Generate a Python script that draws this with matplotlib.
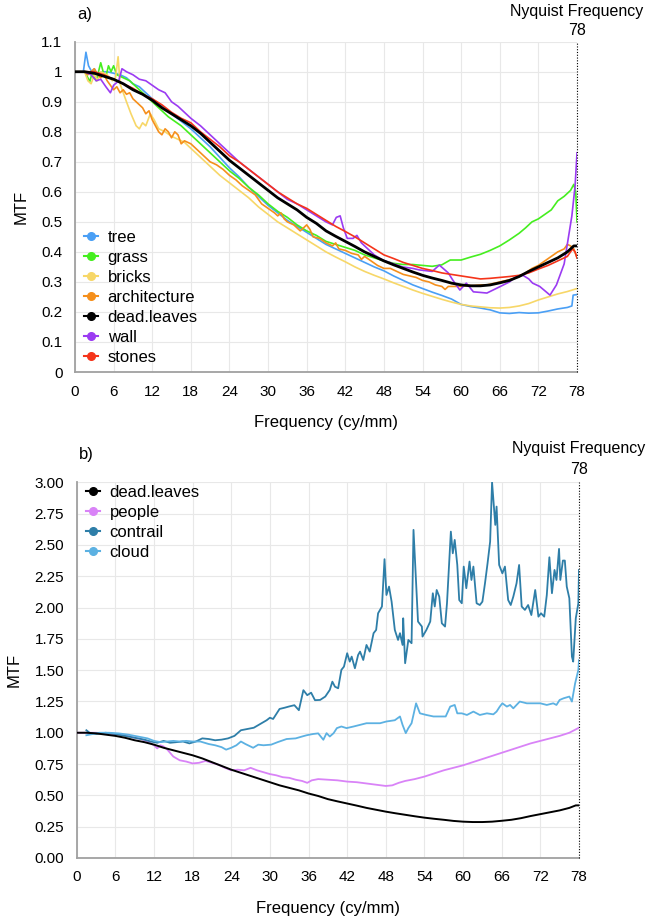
"""
MTF curves for natural scene content vs. the dead-leaves target.

    a) texture-like scenes
    b) people / sky scenes (contrail, cloud)
"""

import matplotlib
matplotlib.use("Agg")
import matplotlib.pyplot as plt
from matplotlib.lines import Line2D
from matplotlib.ticker import FuncFormatter, MultipleLocator

plt.rcParams["font.family"] = ["Liberation Sans", "DejaVu Sans"]

NYQUIST = 78

# ---------------------------------------------------------------------------
# panel a) data
# ---------------------------------------------------------------------------

dead_x = [0, 1.5, 3, 4.5, 6, 7.5, 9, 10.5, 12, 13.5, 15, 16.5, 18, 19.5, 21,
          22.5, 24, 25.5, 27, 28.5, 30, 31.5, 33, 34.5, 36, 37.5, 39, 40.5,
          42, 43.5, 45, 46.5, 48, 49.5, 51, 52.5, 54, 55.5, 57, 58.5, 60,
          61.5, 63, 64.5, 66, 67.5, 69, 70.5, 72, 73.5, 75, 76.5, 77.5, 78]
dead_y = [1.0, 1.0, 0.995, 0.985, 0.975, 0.96, 0.94, 0.925, 0.905, 0.88,
          0.86, 0.84, 0.82, 0.795, 0.765, 0.735, 0.705, 0.68, 0.655, 0.63,
          0.605, 0.58, 0.56, 0.54, 0.515, 0.495, 0.47, 0.452, 0.435, 0.418,
          0.4, 0.385, 0.37, 0.357, 0.345, 0.333, 0.322, 0.313, 0.305, 0.296,
          0.29, 0.287, 0.287, 0.29, 0.297, 0.305, 0.318, 0.335, 0.35, 0.365,
          0.38, 0.4, 0.42, 0.42]

stones_x = [1.5, 3, 4.5, 6, 7.5, 9, 10.5, 12, 13.5, 15, 16.5, 18, 19.5, 21,
            22.5, 24, 25.5, 27, 28.5, 30, 31.5, 33, 34.5, 36, 37.5, 39, 40.5,
            42, 43.5, 45, 46.5, 48, 49.5, 51, 52.5, 54, 55.5, 57, 58.5, 60,
            61.5, 63, 64.5, 66, 67.5, 69, 70.5, 72, 73.5, 75, 76.5, 77.3,
            77.7, 78]
stones_y = [1.0, 1.0, 0.99, 0.975, 0.96, 0.945, 0.925, 0.91, 0.89, 0.865,
            0.845, 0.83, 0.8, 0.775, 0.75, 0.72, 0.7, 0.675, 0.65, 0.625,
            0.6, 0.58, 0.56, 0.545, 0.525, 0.505, 0.485, 0.468, 0.45, 0.43,
            0.41, 0.39, 0.378, 0.365, 0.355, 0.345, 0.338, 0.33, 0.325, 0.32,
            0.315, 0.31, 0.312, 0.315, 0.318, 0.322, 0.33, 0.343, 0.355,
            0.37, 0.385, 0.41, 0.4, 0.38]

wall_x = [1.5, 2.5, 3.3, 4, 4.8, 5.5, 6, 6.8, 7.3, 8, 9, 10, 11, 12, 13, 14,
          15, 16, 17, 18, 19.5, 21, 22.5, 24, 25.5, 27, 28.5, 30, 31.5, 33,
          34.5, 36, 37.5, 39, 40, 40.6, 41.2, 41.7, 42.3, 43.2, 43.8, 44.5,
          45.5, 46.5, 47.8, 49.5, 50.9, 52.5, 53.5, 55.5, 56.6, 57.2, 58,
          58.7, 59.8, 60.8, 61.9, 63, 64, 66, 67.5, 68.5, 69.6, 70.5, 71.1,
          72.2, 73.2, 73.8, 74.8, 76, 76.6, 77.2, 77.7, 78]
wall_y = [1.0, 0.99, 0.97, 0.975, 0.95, 0.93, 0.955, 0.97, 1.01, 1.0, 0.99,
          0.975, 0.97, 0.955, 0.94, 0.93, 0.9, 0.885, 0.865, 0.845, 0.82,
          0.79, 0.76, 0.73, 0.7, 0.675, 0.65, 0.625, 0.6, 0.575, 0.56, 0.54,
          0.52, 0.5, 0.49, 0.515, 0.52, 0.48, 0.445, 0.445, 0.455, 0.43,
          0.41, 0.39, 0.373, 0.36, 0.35, 0.345, 0.34, 0.335, 0.356, 0.345,
          0.33, 0.306, 0.273, 0.296, 0.267, 0.265, 0.263, 0.284, 0.3, 0.317,
          0.322, 0.31, 0.296, 0.285, 0.267, 0.256, 0.29, 0.36, 0.44, 0.52,
          0.62, 0.73]

grass_x = [1.5, 2, 2.3, 2.7, 3.3, 4, 4.5, 4.8, 5.2, 5.6, 6, 6.5, 7.5, 8.5,
           9.5, 10.5, 11.5, 12.5, 13.5, 14.5, 15.5, 16.5, 17.5, 18.5, 19.5,
           21, 22.5, 24, 25.5, 27, 28.5, 30, 31.5, 33, 34.5, 36, 37.5, 39,
           40.5, 42, 43.5, 45, 46.5, 48, 49.5, 51, 52.5, 54, 55.5, 57, 58.3,
           60, 61.5, 63, 64.5, 66, 67.5, 69, 70, 71, 72, 73, 74, 75, 76, 77,
           77.5, 77.8, 78]
grass_y = [1.0, 0.98, 0.967, 1.0, 0.97, 1.03, 0.99, 0.983, 1.02, 1.0, 1.02,
           0.99, 0.98, 0.97, 0.95, 0.93, 0.91, 0.89, 0.87, 0.85, 0.835, 0.82,
           0.8, 0.78, 0.76, 0.73, 0.7, 0.67, 0.645, 0.615, 0.59, 0.56, 0.535,
           0.515, 0.49, 0.47, 0.455, 0.435, 0.425, 0.415, 0.405, 0.39, 0.38,
           0.37, 0.362, 0.358, 0.358, 0.355, 0.352, 0.357, 0.373, 0.373,
           0.383, 0.392, 0.405, 0.42, 0.44, 0.462, 0.48, 0.5, 0.51, 0.525,
           0.54, 0.57, 0.585, 0.605, 0.625, 0.6, 0.5]

tree_x = [0, 1.3, 1.7, 2.1, 2.6, 3, 3.5, 4.2, 5, 6, 7, 8, 9, 10, 11, 12,
          13.5, 15, 16.5, 18, 19.5, 21, 22.5, 24, 25.5, 27, 28.5, 30, 31.5,
          33, 34.5, 36, 37.5, 39, 40.5, 42, 43.5, 45, 46.5, 48, 49.5, 51,
          52.5, 54, 55.5, 57, 58.5, 60, 61.5, 63, 64.5, 66, 67.5, 69, 70.5,
          72, 73.5, 75, 76.5, 77.2, 77.4, 78]
tree_y = [1.0, 1.0, 1.065, 1.02, 1.0, 1.01, 0.99, 1.0, 1.0, 0.995, 0.99,
          0.98, 0.96, 0.95, 0.93, 0.91, 0.885, 0.86, 0.835, 0.81, 0.78, 0.75,
          0.715, 0.68, 0.65, 0.615, 0.585, 0.555, 0.53, 0.505, 0.485, 0.465,
          0.445, 0.425, 0.41, 0.395, 0.38, 0.365, 0.35, 0.337, 0.32, 0.305,
          0.29, 0.278, 0.266, 0.255, 0.243, 0.225, 0.218, 0.213, 0.207, 0.197,
          0.195, 0.198, 0.196, 0.197, 0.203, 0.21, 0.215, 0.22, 0.256, 0.258]

bricks_x = [0, 1.5, 2, 2.5, 3, 3.5, 4, 5, 5.8, 6.3, 6.7, 7, 7.5, 8, 8.7,
            9.5, 10, 10.5, 11, 11.7, 12.3, 13, 14, 15, 16, 17, 18, 19.5, 21,
            22.5, 24, 25.5, 27, 28.5, 30, 31.5, 33, 34.5, 36, 37.5, 39, 40.5,
            42, 43.5, 45, 46.5, 48, 49.5, 51, 52.5, 54, 55.5, 57, 58.5, 60,
            61.5, 63, 64.5, 66, 67.5, 69, 70.5, 72, 73.5, 75, 76.5, 78]
bricks_y = [1.0, 1.0, 0.97, 0.96, 0.99, 0.97, 1.0, 0.99, 0.97, 0.98, 1.05,
            0.96, 0.93, 0.9, 0.86, 0.82, 0.81, 0.83, 0.82, 0.86, 0.84, 0.81,
            0.8, 0.785, 0.775, 0.765, 0.745, 0.715, 0.685, 0.655, 0.63,
            0.605, 0.58, 0.55, 0.525, 0.5, 0.48, 0.46, 0.44, 0.42, 0.4,
            0.383, 0.367, 0.35, 0.335, 0.322, 0.31, 0.297, 0.285, 0.273,
            0.262, 0.252, 0.242, 0.233, 0.225, 0.22, 0.217, 0.214, 0.213,
            0.215, 0.22, 0.228, 0.24, 0.25, 0.26, 0.268, 0.278]

arch_x = [0, 1.5, 2, 2.5, 3, 3.5, 4, 4.5, 5, 5.5, 6, 6.5, 7, 7.5, 8, 8.5, 9,
          9.5, 10, 10.5, 11, 11.5, 12, 12.5, 13, 13.5, 14, 14.5, 15, 15.5,
          16, 16.5, 17, 18, 19, 20, 21, 22, 23, 24, 25, 26, 27, 28, 29, 30,
          31, 31.5, 32, 32.5, 33, 34, 35, 36, 36.5, 37, 38, 39, 40, 40.5, 41,
          42, 43, 44, 44.5, 45, 46, 47, 48, 49, 50, 51, 52, 53, 54, 55, 56,
          57, 57.5, 58, 59, 60, 61, 62, 63, 64, 65, 66, 67, 68, 69, 70, 71,
          72, 73, 74, 75, 76, 76.5, 77, 77.5, 78]
arch_y = [1.0, 1.0, 0.99, 1.0, 1.01, 0.99, 0.98, 0.99, 0.97, 0.955, 0.94,
          0.95, 0.93, 0.94, 0.925, 0.93, 0.91, 0.9, 0.89, 0.88, 0.86, 0.87,
          0.84, 0.82, 0.8, 0.79, 0.81, 0.8, 0.78, 0.8, 0.79, 0.76, 0.77,
          0.76, 0.74, 0.72, 0.7, 0.69, 0.675, 0.655, 0.64, 0.62, 0.605, 0.59,
          0.56, 0.545, 0.53, 0.52, 0.53, 0.51, 0.5, 0.49, 0.47, 0.49, 0.475,
          0.45, 0.445, 0.43, 0.42, 0.43, 0.41, 0.405, 0.395, 0.39, 0.375,
          0.385, 0.37, 0.355, 0.345, 0.345, 0.335, 0.325, 0.32, 0.315, 0.305,
          0.3, 0.29, 0.285, 0.275, 0.285, 0.285, 0.285, 0.288, 0.288, 0.29,
          0.29, 0.295, 0.3, 0.305, 0.31, 0.318, 0.33, 0.345, 0.355, 0.37,
          0.385, 0.4, 0.41, 0.425, 0.42, 0.41, 0.38]

# ---------------------------------------------------------------------------
# panel b) data
# ---------------------------------------------------------------------------

people_x = [0, 1.5, 3, 4.5, 6, 7.5, 9, 10, 11, 12, 12.5, 13, 13.5, 14, 14.5,
            15, 16, 17, 18, 19, 20, 21, 22, 23, 24, 25, 26, 27, 28, 29, 30,
            31, 32, 33, 34, 35, 35.8, 36.5, 37.5, 39, 40.5, 42, 43.5, 45,
            46.5, 48, 49, 50, 51, 52.5, 54, 55.5, 57, 58.5, 60, 61.5, 63,
            64.5, 66, 67.5, 69, 70.5, 72, 73.5, 75, 76.5, 78]
people_y = [1.0, 1.0, 1.0, 0.995, 0.99, 0.98, 0.96, 0.95, 0.93, 0.9, 0.875,
            0.9, 0.89, 0.87, 0.84, 0.81, 0.78, 0.77, 0.755, 0.76, 0.775, 0.76,
            0.745, 0.72, 0.7, 0.705, 0.7, 0.72, 0.7, 0.685, 0.67, 0.66, 0.645,
            0.64, 0.625, 0.615, 0.6, 0.62, 0.63, 0.625, 0.62, 0.61, 0.605,
            0.595, 0.585, 0.575, 0.58, 0.6, 0.615, 0.63, 0.65, 0.675, 0.7,
            0.72, 0.74, 0.765, 0.79, 0.815, 0.84, 0.865, 0.89, 0.915, 0.935,
            0.955, 0.975, 1.0, 1.04]

contrail_x = [1.5, 2, 3, 4.5, 6, 7.5, 9, 10.5, 11.5, 12.5, 13.5, 14.5, 15.5,
              16.5, 17.5, 18.5, 19.5, 20.5, 21.5, 22.5, 23.5, 24.5, 25.5,
              26.5, 27.5, 28.5, 29.5, 30, 30.5, 31.5, 32.3, 33, 33.8, 34.5,
              35.2, 35.8, 36.4, 37, 37.8, 38.6, 39.3, 39.7, 40.1, 40.6, 41.1,
              41.5, 42.0, 42.4, 42.7, 43.2, 43.7, 44.0, 44.5, 45.0, 45.5,
              46.1, 46.5, 46.8, 47.4, 47.8, 48.1, 48.5, 48.9, 49.4, 49.9,
              50.2, 50.6, 50.7, 51.0, 51.5, 52.0, 52.3, 52.6, 53.0, 53.6,
              53.7, 54.3, 54.9, 55.3, 55.6, 55.9, 56.3, 56.7, 57.2, 57.5,
              58.1, 58.4, 58.7, 59.1, 59.4, 59.8, 60.1, 60.5, 61.0, 61.3,
              61.6, 62.1, 62.6, 63.0, 63.4, 63.8, 64.2, 64.5, 65.0, 65.2,
              65.6, 66.1, 66.5, 67.0, 67.4, 67.8, 68.3, 68.7, 69.1, 69.6,
              70.1, 70.6, 71.2, 71.7, 72.1, 72.6, 73.0, 73.4, 73.8, 74.2,
              74.5, 74.9, 75.1, 75.5, 75.8, 76.1, 76.5, 76.9, 77.1, 77.5,
              77.9, 78]
contrail_y = [1.02, 1.0, 0.99, 1.0, 0.99, 0.975, 0.96, 0.945, 0.93, 0.92,
              0.935, 0.92, 0.925, 0.93, 0.915, 0.93, 0.955, 0.95, 0.94,
              0.945, 0.955, 0.975, 1.02, 1.03, 1.04, 1.07, 1.1, 1.12, 1.11,
              1.19, 1.2, 1.21, 1.22, 1.18, 1.34, 1.3, 1.32, 1.26, 1.262,
              1.289, 1.342, 1.408, 1.368, 1.355, 1.502, 1.528, 1.635, 1.568,
              1.608, 1.515, 1.621, 1.648, 1.581, 1.701, 1.648, 1.795, 1.821,
              1.954, 2.008, 2.386, 2.1, 2.167, 2.047, 1.821, 1.741, 1.795,
              1.701, 1.914, 1.555, 1.741, 1.715, 2.62, 2.3, 1.888, 1.848,
              1.768, 1.821, 1.888, 2.114, 2.008, 2.14, 2.087, 1.874, 1.848,
              2.034, 2.606, 2.433, 2.54, 2.34, 2.06, 2.034, 2.327, 2.154,
              2.367, 2.22, 2.327, 2.034, 2.02, 2.047, 2.193, 2.353, 2.526,
              3.0, 2.66, 2.806, 2.34, 2.273, 2.327, 2.06, 2.02, 2.087, 2.193,
              2.34, 2.008, 1.981, 2.02, 1.94, 2.14, 1.927, 1.954, 1.927, 2.1,
              2.401, 2.114, 2.3, 2.22, 2.468, 2.22, 2.375, 2.375, 2.167,
              2.074, 1.608, 1.568, 1.914, 2.034, 2.3]

cloud_x = [1.5, 2.5, 3.5, 5, 6.5, 8, 9.5, 11, 12, 13, 14, 15, 16, 17, 18,
           19.2, 20.5, 21.5, 22.5, 23.2, 24, 24.8, 25.5, 26.2, 27.4, 28.2,
           29, 30.2, 31.2, 32.6, 34, 35, 35.7, 36.7, 37.5, 38.3, 38.8, 39.3,
           39.9, 40.4, 41.1, 41.9, 43.0, 44.0, 45.0, 46.1, 47.1, 48.1, 49.4,
           50.2, 50.6, 51.1, 51.5, 52.0, 52.7, 53.3, 54.3, 55.4, 56.4, 57.3,
           58.0, 58.7, 59.1, 59.8, 60.6, 61.6, 62.6, 63.7, 64.7, 65.2, 65.7,
           66.1, 66.8, 67.3, 67.8, 68.3, 68.8, 69.9, 70.9, 72.0, 73.0, 74.0,
           74.5, 75.0, 75.6, 76.5, 76.9, 77.4, 77.9, 78]
cloud_y = [0.98, 0.99, 1.0, 1.0, 0.995, 0.985, 0.97, 0.955, 0.935, 0.925,
           0.93, 0.935, 0.93, 0.935, 0.93, 0.93, 0.91, 0.9, 0.885, 0.865,
           0.88, 0.9, 0.93, 0.91, 0.88, 0.905, 0.9, 0.905, 0.925, 0.95,
           0.955, 0.97, 0.98, 0.99, 0.995, 0.944, 0.997, 0.97, 0.997, 1.037,
           1.05, 1.037, 1.05, 1.063, 1.076, 1.076, 1.076, 1.09, 1.1, 1.13,
           1.063, 0.997, 1.037, 1.076, 1.235, 1.155, 1.142, 1.13, 1.13, 1.13,
           1.209, 1.222, 1.155, 1.155, 1.142, 1.169, 1.142, 1.155, 1.147,
           1.169, 1.209, 1.235, 1.209, 1.222, 1.195, 1.222, 1.249, 1.235,
           1.235, 1.235, 1.222, 1.235, 1.222, 1.262, 1.275, 1.289, 1.249,
           1.395, 1.502, 1.58]

SERIES_A = [
    ("tree", tree_x, tree_y, "#4a9ff5", 1.2),
    ("grass", grass_x, grass_y, "#45ee1f", 1.2),
    ("bricks", bricks_x, bricks_y, "#f7d768", 1.2),
    ("architecture", arch_x, arch_y, "#f58f1b", 1.2),
    ("dead.leaves", dead_x, dead_y, "#000000", 2.0),
    ("wall", wall_x, wall_y, "#9b3bf2", 1.2),
    ("stones", stones_x, stones_y, "#f5341a", 1.2),
]

SERIES_B = [
    ("dead.leaves", dead_x, dead_y, "#000000", 1.4),
    ("people", people_x, people_y, "#d983f7", 1.3),
    ("contrail", contrail_x, contrail_y, "#2e7ea8", 1.3),
    ("cloud", cloud_x, cloud_y, "#5cb1e2", 1.3),
]


def _style_axes(ax, ymax, ystep, yfmt):
    """Common look: light grid, gray left/bottom spines, no tick marks."""
    ax.set_xlim(0, NYQUIST)
    ax.set_ylim(0, ymax)
    ax.xaxis.set_major_locator(MultipleLocator(6))
    ax.yaxis.set_major_locator(MultipleLocator(ystep))
    ax.yaxis.set_major_formatter(FuncFormatter(yfmt))
    ax.grid(True, color="#e8e8e8", linewidth=0.8)
    ax.set_axisbelow(True)
    for side in ("top", "right"):
        ax.spines[side].set_visible(False)
    for side in ("left", "bottom"):
        ax.spines[side].set_color("#a0a0a0")
        ax.spines[side].set_linewidth(1.3)
    ax.tick_params(length=0, labelsize=11, pad=9)
    ax.set_xlabel("Frequency (cy/mm)", fontsize=12, labelpad=12)
    ax.set_ylabel("MTF", fontsize=12, labelpad=9)

    # Nyquist marker
    ax.axvline(NYQUIST, color="black", linestyle=(0, (1, 1.5)), linewidth=0.8,
               zorder=5, clip_on=False)
    trans = ax.get_xaxis_transform()
    ax.text(NYQUIST, 1.035, str(NYQUIST), transform=trans, ha="center",
            va="center", fontsize=11.5)
    ax.text(NYQUIST, 1.09, "Nyquist Frequency", transform=trans, ha="center",
            va="center", fontsize=11.5)


def _draw_series(ax, series, anchor):
    handles = []
    for name, xs, ys, color, lw in series:
        z = 4 if color == "#000000" else 3
        ax.plot(xs, ys, color=color, linewidth=lw, zorder=z)
        handles.append(Line2D([], [], color=color, linewidth=1.5, marker="o",
                              markersize=5.5, label=name))
    ax.legend(handles=handles, loc="upper left", bbox_to_anchor=anchor,
              frameon=False, fontsize=12, handlelength=0.8, handletextpad=0.6,
              labelspacing=0.3, borderpad=0, borderaxespad=0)


fig = plt.figure(figsize=(6.59, 9.19), dpi=100)

# a) ------------------------------------------------------------------------
ax_a = fig.add_axes([0.1138, 0.5952, 0.7618, 0.3594])
_style_axes(ax_a, 1.1, 0.1, lambda v, _: f"{v:.1f}".rstrip("0").rstrip("."))
_draw_series(ax_a, SERIES_A, (0.0185, 0.431))
fig.text(0.117, 0.984, "a)", fontsize=12, va="center")

# b) ------------------------------------------------------------------------
ax_b = fig.add_axes([0.1164, 0.0664, 0.7622, 0.4088])
_style_axes(ax_b, 3.0, 0.25, lambda v, _: f"{v:.2f}")
_draw_series(ax_b, SERIES_B, (0.019, 0.994))
fig.text(0.12, 0.505, "b)", fontsize=12, va="center")

fig.savefig("out.png", dpi=100)
